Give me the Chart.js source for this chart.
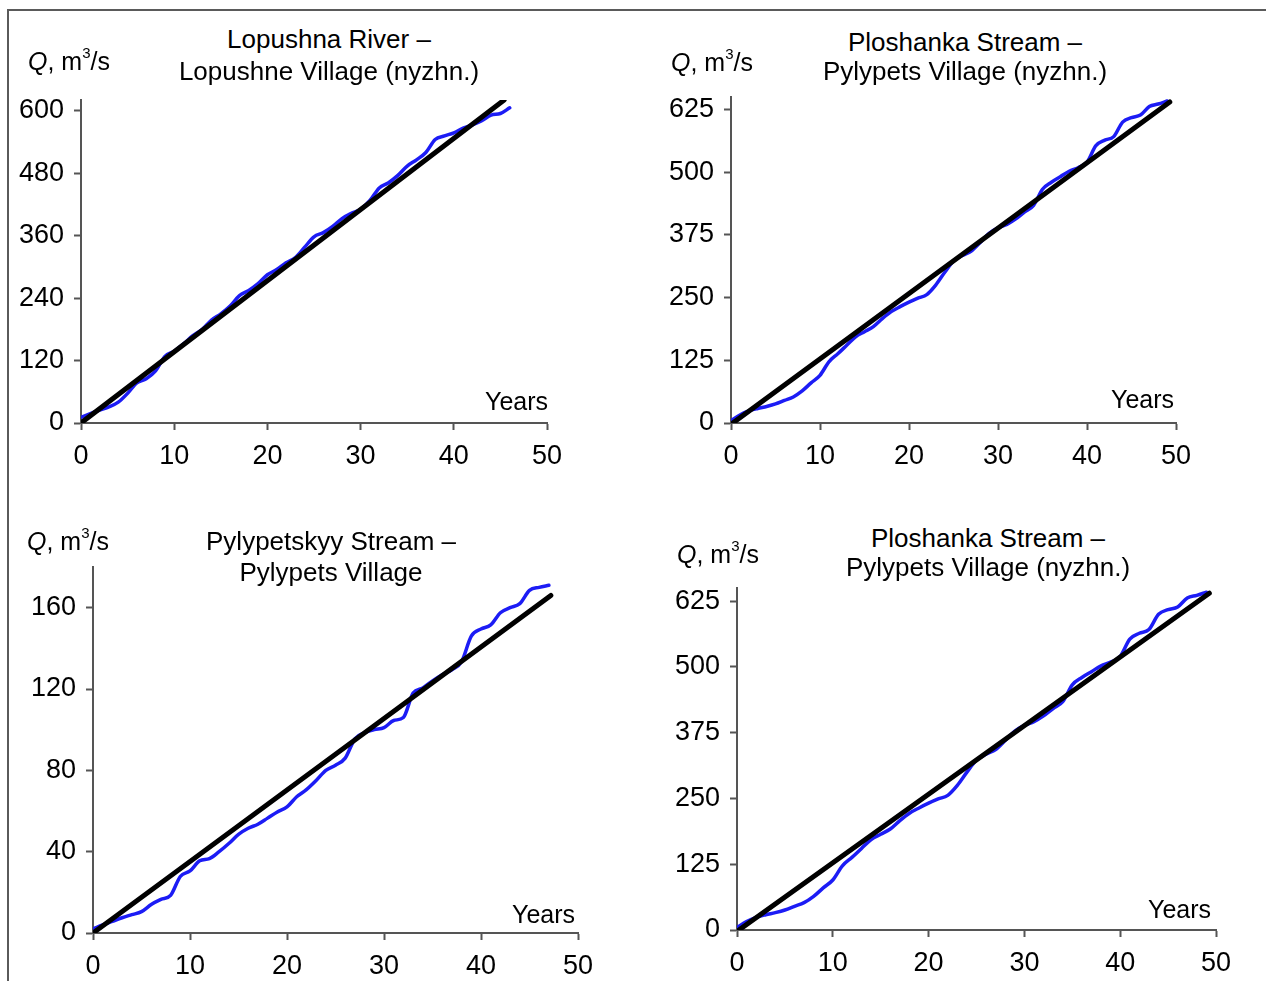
<!DOCTYPE html>
<html>
<head>
<meta charset="utf-8">
<script src="https://cdn.jsdelivr.net/npm/chart.js@4.4.1/dist/chart.umd.min.js"></script>
<style>
  html, body { margin:0; padding:0; background:#fff; }
  body { width:1266px; height:981px; position:relative; overflow:hidden; font-family:"Liberation Sans", Arial, sans-serif; }
  #frame { position:absolute; left:7px; top:9px; width:1270px; height:980px; border-left:2px solid #5a5a5a; border-top:2px solid #5a5a5a; }
  canvas { position:absolute; }
  .t { position:absolute; white-space:nowrap; line-height:1; color:#000; }
  .c { transform:translateX(-50%); }
  .sup { font-size:15px; position:relative; top:-12px; }
</style>
</head>
<body>
<div id="frame"></div>
<script>
// ---------- data ----------
const xTicks = [0, 10, 20, 30, 40, 50];

// Panel 1: Lopushna River – Lopushne Village (nyzhn.)
const p1Years = [0,1,2,3,4,5,6,7,8,9,10,11,12,13,14,15,16,17,18,19,20,21,22,23,24,25,26,27,28,29,30,31,32,33,34,35,36,37,38,39,40,41,42,43,44,45,46];
const p1Q = [11,18,25,31,40,57,77,85,100,128,138,152,168,180,198,210,225,245,255,268,285,295,308,318,338,358,366,378,393,403,411,428,452,462,476,494,506,520,545,552,558,567,573,581,592,595,606];
const p1TrendX = [0, 45.4];
const p1TrendY = [0, 621];
const p1YTicks = [0, 120, 240, 360, 480, 600];
const p1YMax = 621;

// Panel 2 and 4: Ploshanka Stream – Pylypets Village (nyzhn.)
const p2Years = [0,1,2,3,4,5,6,7,8,9,10,11,12,13,14,15,16,17,18,19,20,21,22,23,24,25,26,27,28,29,30,31,32,33,34,35,36,37,38,39,40,41,42,43,44,45,46,47,48,49];
const p2Q = [5,16,24,29,33,38,45,52,64,80,95,122,138,155,172,182,192,208,222,232,241,249,256,275,300,323,334,343,360,378,389,396,407,421,434,466,480,491,502,509,520,553,564,571,600,609,614,631,636,642];
const p2TrendX = [0.2, 49.3];
const p2TrendY = [0, 640];
const p2YTicks = [0, 125, 250, 375, 500, 625];
const p2YMax = 650;

// Panel 3: Pylypetskyy Stream – Pylypets Village
const p3Years = [0,1,2,3,4,5,6,7,8,9,10,11,12,13,14,15,16,17,18,19,20,21,22,23,24,25,26,27,28,29,30,31,32,33,34,35,36,37,38,39,40,41,42,43,44,45,46,47];
const p3Q = [2,4,5.7,7.5,9,10.5,14,16.5,18.5,27.8,30.5,35.5,36.6,40,44,48.5,51.5,53.5,56.5,59.5,62,67,70.5,75,80,82.5,86,95.5,98.5,100,101,104.5,106,118,120.5,124,127,129.5,133.5,146,149.5,151.5,157.5,160,162,168.5,170,171];
const p3TrendX = [0, 47.2];
const p3TrendY = [0, 166];
const p3YTicks = [0, 40, 80, 120, 160];
const p3YMax = 180;

const titles = [
  ["Lopushna River –", "Lopushne Village (nyzhn.)"],
  ["Ploshanka Stream –", "Pylypets Village (nyzhn.)"],
  ["Pylypetskyy Stream –", "Pylypets Village"],
  ["Ploshanka Stream –", "Pylypets Village (nyzhn.)"]
];
const xLabel = 'Years';

// ---------- layout ----------
const FONT = '"Liberation Sans", Arial, sans-serif';
const AXIS = '#555555';
const BLUE = 'rgb(28,28,245)';

const panels = [
  { years:p1Years, q:p1Q, tx:p1TrendX, ty:p1TrendY, yt:p1YTicks, ymax:p1YMax,
    axisX:81, axisY:423, rightX:547, topY:100,
    title:titles[0], tcx:329, tb1:48.5, tb2:80, qx:28, qb:70, yrx:485, yrb:410 },
  { years:p2Years, q:p2Q, tx:p2TrendX, ty:p2TrendY, yt:p2YTicks, ymax:p2YMax,
    axisX:731, axisY:423, rightX:1176, topY:97,
    title:titles[1], tcx:965, tb1:51, tb2:80, qx:671, qb:71, yrx:1111, yrb:408 },
  { years:p3Years, q:p3Q, tx:p3TrendX, ty:p3TrendY, yt:p3YTicks, ymax:p3YMax,
    axisX:93, axisY:933, rightX:578, topY:567,
    title:titles[2], tcx:331, tb1:550, tb2:581, qx:27, qb:550, yrx:512, yrb:923 },
  { years:p2Years, q:p2Q, tx:p2TrendX, ty:p2TrendY, yt:p2YTicks, ymax:p2YMax,
    axisX:737, axisY:930, rightX:1216, topY:588,
    title:titles[3], tcx:988, tb1:547, tb2:576, qx:677, qb:563, yrx:1148, yrb:918 }
];

function addText(html, x, baseline, size, center) {
  const d = document.createElement('div');
  d.className = 't' + (center ? ' c' : '');
  d.style.fontSize = size + 'px';
  d.style.left = x + 'px';
  d.style.top = (baseline - 0.8465 * size) + 'px';
  d.innerHTML = html;
  document.body.appendChild(d);
}

const YW = 80, XH = 50, PADT = 34, PADR = 30;

panels.forEach((p) => {
  const cv = document.createElement('canvas');
  const cx = p.axisX - YW, cy = p.topY - PADT;
  const cw = p.rightX + PADR - cx, ch = p.axisY + XH - cy;
  cv.width = cw; cv.height = ch;
  cv.style.left = cx + 'px'; cv.style.top = cy + 'px';
  cv.style.width = cw + 'px'; cv.style.height = ch + 'px';
  document.body.appendChild(cv);

  const blueData = p.years.map((y, i) => ({ x: y, y: p.q[i] }));
  const trendData = p.tx.map((x, i) => ({ x: x, y: p.ty[i] }));

  new Chart(cv, {
    type: 'scatter',
    data: {
      datasets: [
        { data: trendData, showLine: true, borderColor: '#000', borderWidth: 5,
          pointRadius: 0, borderCapStyle: 'round', order: 0 },
        { data: blueData, showLine: true, borderColor: BLUE, borderWidth: 3.5,
          pointRadius: 0, cubicInterpolationMode: 'monotone', borderCapStyle: 'round', order: 1 }
      ]
    },
    options: {
      responsive: false, animation: false, devicePixelRatio: 1,
      layout: { padding: { top: PADT, right: PADR, bottom: 0, left: 0 } },
      plugins: { legend: { display: false }, tooltip: { enabled: false }, title: { display: false } },
      scales: {
        x: {
          type: 'linear', min: 0, max: 50,
          afterBuildTicks: (s) => { s.ticks = xTicks.map(v => ({ value: v })); },
          afterFit: (s) => { s.height = XH; },
          ticks: { font: { family: FONT, size: 27 }, color: '#000', padding: 10, maxRotation: 0, autoSkip: false },
          grid: { drawOnChartArea: false, drawTicks: true, tickLength: 7, tickColor: AXIS, tickWidth: 2 },
          border: { color: AXIS, width: 2 }
        },
        y: {
          type: 'linear', min: 0, max: p.ymax,
          afterBuildTicks: (s) => { s.ticks = p.yt.map(v => ({ value: v })); },
          afterFit: (s) => { s.width = YW; },
          ticks: { font: { family: FONT, size: 27 }, color: '#000', padding: 10, autoSkip: false },
          grid: { drawOnChartArea: false, drawTicks: true, tickLength: 7, tickColor: AXIS, tickWidth: 2 },
          border: { color: AXIS, width: 2 }
        }
      }
    }
  });

  addText(p.title[0], p.tcx, p.tb1, 26, true);
  addText(p.title[1], p.tcx, p.tb2, 26, true);
  addText('<i>Q</i>, m<span class="sup">3</span>/s', p.qx, p.qb, 25, false);
  addText(xLabel, p.yrx, p.yrb, 25, false);
});
</script>
</body>
</html>
